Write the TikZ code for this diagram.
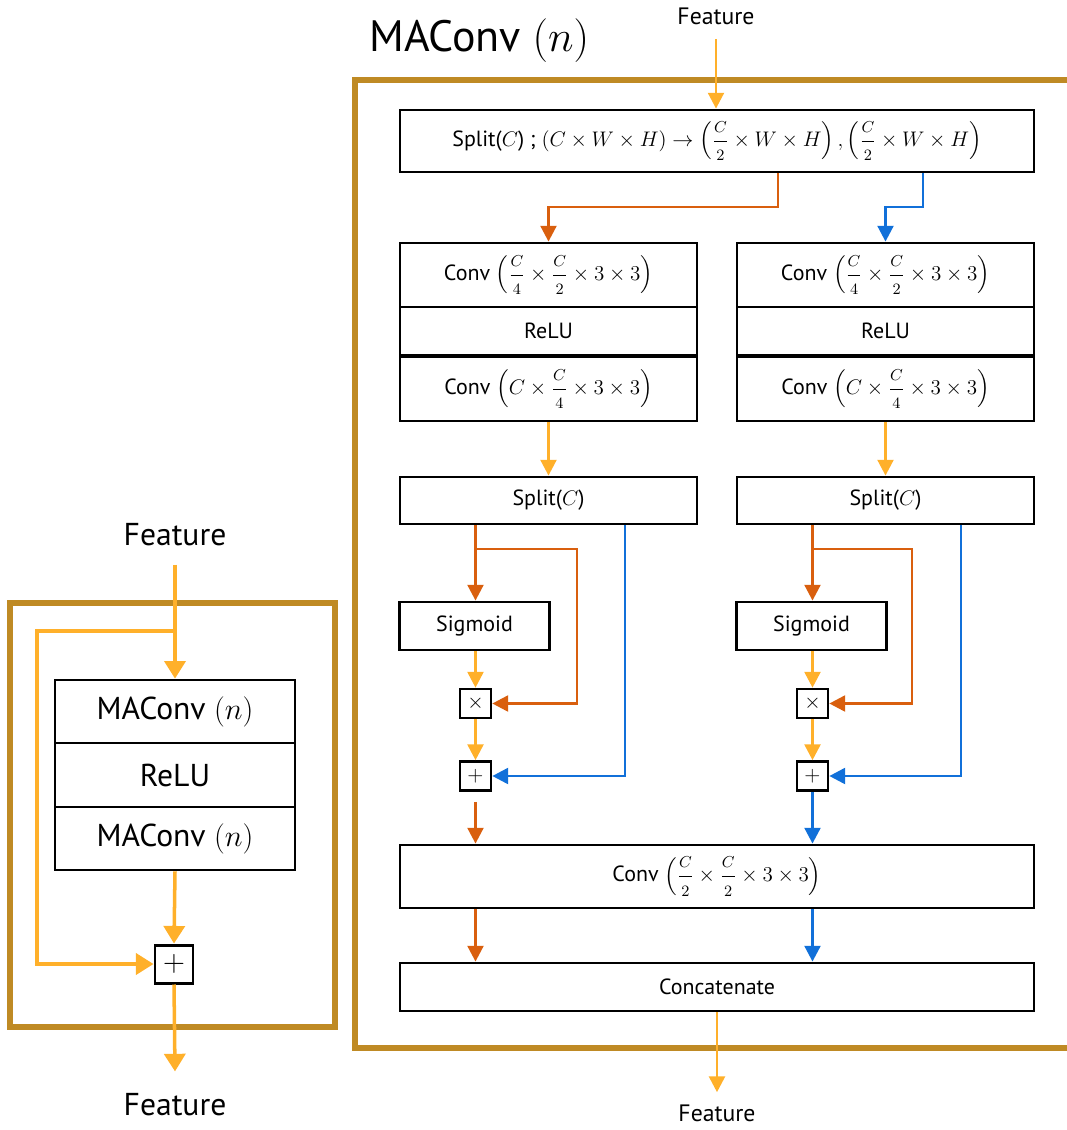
\documentclass[tikz,border=0pt]{standalone}
\usepackage{amsmath}
\usepackage{fontspec}
\setmainfont{PT Sans}
\usetikzlibrary{arrows.meta,calc}
\definecolor{ylw}{HTML}{FFB02A}
\definecolor{org}{HTML}{D95F0E}
\definecolor{blu}{HTML}{1170D9}
\definecolor{brn}{HTML}{BF8A24}
\newcommand{\sfr}[2]{\genfrac{}{}{}{0}{\scriptstyle #1}{\scriptstyle #2}}
\tikzset{
  box/.style={draw=black, line width=1.6pt, fill=white, inner sep=0pt, font=\fontsize{12.5}{14}\selectfont},
  bigbox/.style={box, font=\fontsize{18}{20}\selectfont},
  opbox/.style={draw=black, line width=1.5pt, fill=white, inner sep=0pt, minimum width=0.62cm, minimum height=0.58cm, font=\fontsize{13}{13}\selectfont},
  tip/.style={-{Triangle[length=9pt,width=9pt]}},
  bigtip/.style={-{Triangle[length=10pt,width=12pt]}},
  ya/.style={draw=ylw, line width=1.6pt, tip},
  oa/.style={draw=org, line width=1.6pt, tip},
  ba/.style={draw=blu, line width=1.6pt, tip},
  yal/.style={draw=ylw, line width=2pt, bigtip},
  frame/.style={draw=brn, line width=3.4pt},
  lbl/.style={inner sep=0pt, font=\fontsize{13.5}{15}\selectfont},
  biglbl/.style={inner sep=0pt, font=\fontsize{18}{20}\selectfont},
}
\begin{document}
\begin{tikzpicture}[x=0.02cm,y=-0.02cm]
\useasboundingbox (0,0) rectangle (1067,1130);

% ---------- right panel ----------
\draw[frame] (1072,80) -- (355,80) -- (355,1048) -- (1072,1048);
\node[inner sep=0pt, anchor=west, font=\fontsize{25}{27}\selectfont] (title) at (369,41) {MAConv $(n)$};

\node[lbl] (ftop) at (716,16) {Feature};
\node[box, minimum width=12.68cm, minimum height=1.24cm] (split) at (717,141)
  {Split($C$) ; $(C\times W\times H)\rightarrow\left(\sfr{C}{2}\times W\times H\right),\left(\sfr{C}{2}\times W\times H\right)$};
\draw[ya] ($(ftop.south)+(0,14)$) -- (ftop.south |- split.north);

% left branch stack
\node[box, minimum width=5.94cm, minimum height=1.28cm] (c1a) at (548.5,275) {Conv $\left(\sfr{C}{4}\times\sfr{C}{2}\times 3\times 3\right)$};
\node[box, minimum width=5.94cm, minimum height=0.96cm] (r1a) at (548.5,331) {ReLU};
\node[box, minimum width=5.94cm, minimum height=1.28cm] (c2a) at (548.5,389) {Conv $\left(C\times\sfr{C}{4}\times 3\times 3\right)$};
% right branch stack
\node[box, minimum width=5.94cm, minimum height=1.28cm] (c1b) at (885.5,275) {Conv $\left(\sfr{C}{4}\times\sfr{C}{2}\times 3\times 3\right)$};
\node[box, minimum width=5.94cm, minimum height=0.96cm] (r1b) at (885.5,331) {ReLU};
\node[box, minimum width=5.94cm, minimum height=1.28cm] (c2b) at (885.5,389) {Conv $\left(C\times\sfr{C}{4}\times 3\times 3\right)$};

\coordinate (b1) at (778,207);
\coordinate (b2) at (923,207);
\draw[oa] (split.south -| b1) -- (b1) -| (c1a.north);
\draw[ba] (split.south -| b2) -- (b2) -| (c1b.north);

\node[box, minimum width=5.94cm, minimum height=0.94cm] (spa) at (548.5,500.5) {Split($C$)};
\node[box, minimum width=5.94cm, minimum height=0.94cm] (spb) at (885.5,500.5) {Split($C$)};
\draw[ya] (c2a.south) -- (spa.north);
\draw[ya] (c2b.south) -- (spb.north);

\node[box, minimum width=3.0cm, minimum height=0.96cm] (sga) at (474.5,626) {Sigmoid};
\node[box, minimum width=3.0cm, minimum height=0.96cm] (sgb) at (811.5,626) {Sigmoid};
\node[opbox] (mula) at (475.5,703.5) {$\times$};
\node[opbox] (adda) at (475.5,776) {$+$};
\node[opbox] (mulb) at (812.5,703.5) {$\times$};
\node[opbox] (addb) at (812.5,776) {$+$};

% left branch internals
\coordinate (ja) at (475.5,549);
\coordinate (ra) at (577,549);
\coordinate (xa) at (625,0);
\draw[oa] (spa.south -| mula) -- (sga.north -| mula);
\draw[oa] (ja) -- (ra) |- (mula.east);
\draw[ba] (spa.south -| xa) |- (adda.east);
\draw[ya] (sga.south -| mula) -- (mula.north);
\draw[ya] (mula.south) -- (adda.north);
% right branch internals
\coordinate (jb) at (812.5,549);
\coordinate (rb) at (912,549);
\coordinate (xb) at (961,0);
\draw[oa] (spb.south -| mulb) -- (sgb.north -| mulb);
\draw[oa] (jb) -- (rb) |- (mulb.east);
\draw[ba] (spb.south -| xb) |- (addb.east);
\draw[ya] (sgb.south -| mulb) -- (mulb.north);
\draw[ya] (mulb.south) -- (addb.north);

\node[box, minimum width=12.68cm, minimum height=1.26cm] (conv3) at (717,876.5) {Conv $\left(\sfr{C}{2}\times\sfr{C}{2}\times 3\times 3\right)$};
\node[box, minimum width=12.68cm, minimum height=0.96cm] (cat) at (717,987) {Concatenate};
\draw[oa] ($(adda.south)+(0,10)$) -- (conv3.north -| adda);
\draw[ba] (addb.south) -- (conv3.north -| addb);
\draw[oa] (conv3.south -| adda) -- (cat.north -| adda);
\draw[ba] (conv3.south -| addb) -- (cat.north -| addb);

\node[lbl] (fbot) at (717,1113) {Feature};
\draw[ya] (cat.south) -- ($(fbot.north)+(0,-12)$);

% ---------- left panel ----------
\draw[frame] (10,603) rectangle (335,1027);
\node[biglbl] (lfin) at (175,535) {Feature};
\node[bigbox, minimum width=4.8cm, minimum height=1.26cm] (m1) at (175,711.5) {MAConv $(n)$};
\node[bigbox, minimum width=4.8cm, minimum height=1.28cm] (lr) at (175,775) {ReLU};
\node[bigbox, minimum width=4.8cm, minimum height=1.26cm] (m2) at (175,838.5) {MAConv $(n)$};
\node[draw=black, line width=1.7pt, fill=white, inner sep=0pt, minimum size=0.76cm, font=\fontsize{17}{17}\selectfont] (lplus) at (174,964) {$+$};
\node[biglbl] (lfout) at (175,1105) {Feature};

\coordinate (lj) at (175,631);
\coordinate (lc) at (37,631);
\draw[yal] ($(lfin.south)+(0,18)$) -- (m1.north);
\draw[yal] (lj) -- (lc) |- (lplus.west);
\draw[yal] (m2.south) -- (lplus.north);
\draw[yal] (lplus.south) -- ($(lfout.north)+(0,-22)$);
\end{tikzpicture}
\end{document}
